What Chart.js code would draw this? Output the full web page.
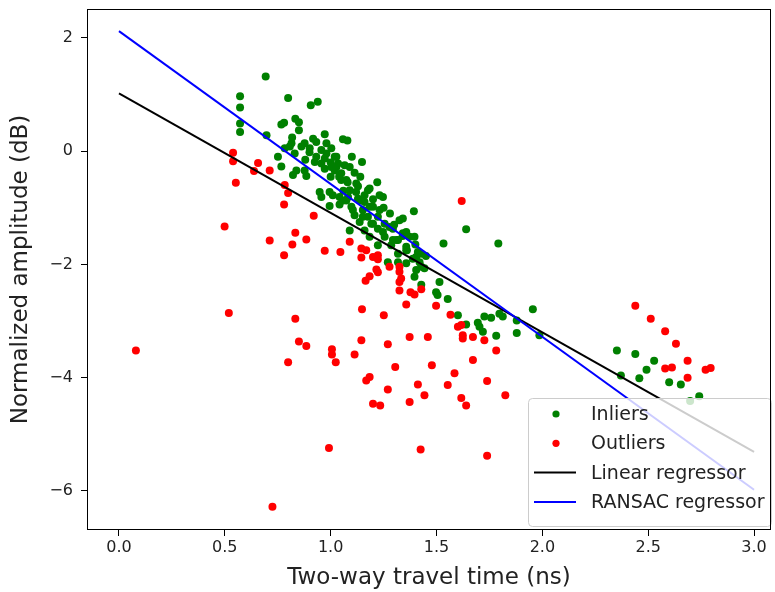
<!DOCTYPE html>
<html>
<head>
<meta charset="utf-8">
<script src="https://cdn.jsdelivr.net/npm/chart.js@4"></script>
<style>
  html, body { margin: 0; padding: 0; background: #fff; }
  #wrap { width: 775px; height: 592px; }
</style>
</head>
<body>
<div id="wrap"><canvas id="myChart" width="775" height="592"></canvas></div>
<script>
// values
const inlierX = [0.572, 0.572, 0.572, 0.572, 0.693, 0.799, 0.906, 0.939, 0.767, 0.78, 0.833, 0.85, 0.85, 0.697, 0.972, 0.818, 0.917, 0.815, 0.877, 0.932,
  0.98, 1.058, 0.783, 0.862, 0.901, 0.956, 1.003, 0.751, 0.83, 0.932, 0.972, 1.019, 0.925, 0.956, 1.035, 0.767, 0.838, 0.877, 0.972, 1.019,
  0.822, 0.885, 1.05, 0.948, 0.956, 0.995, 1.042, 1.01, 0.995, 1.042, 1.057, 1.079, 1.148, 1.066, 1.09, 1.113, 1.027, 1.04, 1.074, 1.129,
  1.176, 1.231, 1.06, 1.082, 1.129, 1.16, 1.2, 1.098, 1.152, 1.393, 1.113, 1.176, 1.223, 1.325, 1.341, 1.137, 1.192, 1.255, 1.09, 1.16,
  1.223, 1.294, 1.357, 1.396, 1.184, 1.255, 1.318, 1.223, 1.286, 1.357, 1.412, 1.318, 1.388, 1.27, 1.318, 1.357, 1.404, 1.428, 1.396, 1.428,
  1.514, 1.498, 1.64, 1.533, 1.792, 1.428, 1.42, 1.443, 1.505, 1.553, 1.601, 1.726, 1.758, 1.797, 1.813, 1.64, 1.695, 1.703, 1.719, 1.782,
  1.879, 1.879, 1.955, 1.986, 2.352, 2.439, 2.528, 2.492, 2.458, 2.371, 2.599, 2.654, 2.741, 2.698,
  0.88, 0.90, 1.0, 1.08, 1.12, 1.2, 1.25, 1.28, 1.3, 1.34, 1.4, 1.45, 1.36, 1.0, 1.1, 1.14, 1.22,
  1.247, 1.184, 1.121, 1.231, 1.184, 1.137, 1.278, 1.341, 1.373, 1.31, 1.357, 1.404, 1.027, 0.98, 1.05, 1.003, 1.09, 1.16, 1.074, 1.105,
  1.152, 1.2, 1.247, 1.294, 0.807];
const inlierY = [0.97, 0.77, 0.49, 0.34, 1.32, 0.94, 0.81, 0.87, 0.47, 0.50, 0.57, 0.51, 0.37, 0.28, 0.30, 0.24, 0.22, 0.14, 0.14, 0.16,
  0.14, 0.21, 0.05, 0.08, 0.05, 0.02, 0.05, -0.10, -0.04, -0.10, -0.13, -0.10, -0.19, -0.22, -0.22, -0.27, -0.34, -0.34, -0.31, -0.34,
  -0.42, -0.44, -0.39, -0.72, -0.81, -0.72, -0.81, -0.78, -0.97, -0.94, -0.87, 0.19, -0.19, -0.25, -0.28, -0.38, -0.10, -0.45, -0.51, -0.62,
  -0.69, -0.78, -0.70, -0.81, -0.84, -0.90, -0.98, -0.98, -1.04, -1.06, -1.13, -1.16, -1.16, -1.22, -1.19, -1.25, -1.28, -1.28, -1.40, -1.40,
  -1.37, -1.37, -1.43, -1.51, -1.51, -1.51, -1.57, -1.66, -1.66, -1.69, -1.78, -1.81, -1.90, -1.96, -1.96, -1.98, -2.10, -2.04, -2.22, -2.36,
  -2.31, -2.49, -1.38, -1.63, -1.63, -1.81, -1.96, -2.07, -2.54, -2.61, -2.90, -2.92, -2.94, -2.87, -2.92, -3.06, -3.03, -3.10, -3.19, -3.26,
  -2.99, -3.21, -2.79, -3.25, -3.52, -3.58, -3.70, -3.86, -4.01, -3.96, -4.08, -4.12, -4.33, -4.41,
  -0.15, -0.02, -0.45, -0.55, -0.72, -0.85, -1.0, -1.1, -1.3, -1.5, -1.65, -1.85, -1.75, -0.2, -0.1, -0.45, -0.55,
  -0.81, -0.66, -0.57, -1.04, -0.98, -0.87, -1.34, -1.45, -1.51, -1.57, -1.75, -1.87, -0.28, -0.04, -0.51, -0.28, -0.69, -0.78, -0.87, -1.04,
  -1.16, -1.28, -1.43, -1.57, 0.08];

const outlierX = [0.539, 0.539, 0.657, 0.638, 0.552, 0.499, 0.712, 0.783, 0.799, 0.78, 0.92, 0.833, 0.712, 0.819, 0.885, 0.78, 0.972, 1.046, 1.09, 1.145,
  1.168, 1.145, 1.2, 1.223, 1.223, 1.278, 1.325, 1.216, 1.184, 1.223, 1.165, 1.325, 1.333, 1.325, 1.325, 1.377, 1.396, 1.428, 1.357, 1.498,
  1.148, 1.251, 1.373, 1.459, 1.145, 1.27, 1.113, 1.478, 1.305, 1.184, 1.168, 1.412, 1.27, 1.443, 1.2, 1.234, 1.373, 1.425, 1.619, 1.566,
  1.601, 1.617, 1.624, 1.624, 1.672, 1.726, 1.782, 1.672, 1.585, 1.553, 1.739, 1.825, 1.617, 1.64, 1.739, 2.439, 2.512, 2.58, 2.631, 2.686,
  2.58, 2.612, 2.686, 2.771, 2.795, 0.08, 0.519, 0.833, 0.85, 0.885, 1.006, 1.006, 0.799, 1.024, 0.992, 0.725];
const outlierY = [-0.03, -0.18, -0.21, -0.35, -0.56, -1.33, -0.34, -0.60, -0.74, -0.94, -1.14, -1.44, -1.58, -1.65, -1.56, -1.84, -1.76, -1.78, -1.60, -1.72,
  -1.75, -1.88, -1.87, -1.84, -1.91, -2.04, -2.04, -2.09, -2.21, -2.14, -2.29, -2.13, -2.25, -2.31, -2.46, -2.49, -2.53, -2.44, -2.71, -2.73,
  -2.79, -2.90, -3.28, -3.28, -3.34, -3.41, -3.59, -3.78, -3.81, -3.99, -4.05, -4.12, -4.21, -4.31, -4.46, -4.49, -4.43, -5.27, -0.88, -2.89,
  -3.10, -3.07, -3.25, -3.31, -3.28, -3.34, -3.52, -3.69, -3.92, -4.13, -4.06, -4.31, -4.36, -4.49, -5.38, -2.73, -2.96, -3.18, -3.40, -3.70,
  -3.84, -3.82, -4.00, -3.86, -3.83, -3.52, -2.86, -2.96, -3.36, -3.44, -3.50, -3.59, -3.73, -3.73, -5.24, -6.28];

const lineX = [0, 3];
const linearY = [1.02, -5.31];
const ransacY = [2.12, -5.98];

const xTicks = [0, 0.5, 1, 1.5, 2, 2.5, 3];
const yTicks = [-6, -4, -2, 0, 2];

const legendLabels = ['Inliers', 'Outliers', 'Linear regressor', 'RANSAC regressor'];
const legendColors = ['green', 'red', 'black', 'blue'];

function toPoints(xs, ys) {
    return xs.map((x, i) => ({x: x, y: ys[i]}));
}

const frame = {
    id: 'frame',
    afterDraw(chart) {
        const {ctx, chartArea: a} = chart;
        ctx.save();
        ctx.strokeStyle = '#000';
        ctx.lineWidth = 1;
        ctx.strokeRect(a.left + 0.5, a.top + 0.5, a.right - a.left - 1, a.bottom - a.top - 1);
        ctx.restore();
    }
};

const boxLegend = {
    id: 'boxLegend',
    afterDatasetsDraw(chart) {
        const ctx = chart.ctx;
        const left = 528, top = 398, w = 243, h = 128;
        ctx.save();
        ctx.beginPath();
        ctx.roundRect(left + 0.5, top + 0.5, w, h, 4);
        ctx.fillStyle = 'rgba(255,255,255,0.8)';
        ctx.fill();
        ctx.strokeStyle = '#cccccc';
        ctx.lineWidth = 1;
        ctx.stroke();
        ctx.font = '19px "DejaVu Sans"';
        ctx.textBaseline = 'middle';
        for (let i = 0; i < legendLabels.length; i++) {
            let y = top + 16 + i * 29.3;
            if (i < 2) {
                ctx.beginPath();
                ctx.arc(556, y, 3.6, 0, Math.PI * 2);
                ctx.fillStyle = legendColors[i];
                ctx.fill();
            } else {
                ctx.beginPath();
                ctx.moveTo(534, y);
                ctx.lineTo(576, y);
                ctx.strokeStyle = legendColors[i];
                ctx.lineWidth = 2;
                ctx.stroke();
            }
            ctx.fillStyle = '#222';
            ctx.fillText(legendLabels[i], 591, y + 1);
        }
        ctx.restore();
    }
};

function makeChart() {
    const ctx = document.getElementById('myChart');

    new Chart(ctx, {
        type: 'scatter',
        data: {
            datasets: [{
                label: 'Inliers',
                data: toPoints(inlierX, inlierY),
                backgroundColor: 'green',
                pointRadius: 4,
                borderWidth: 0,
                order: 4
            }, {
                label: 'Outliers',
                data: toPoints(outlierX, outlierY),
                backgroundColor: 'red',
                pointRadius: 4,
                borderWidth: 0,
                order: 3
            }, {
                type: 'line',
                label: 'Linear regressor',
                data: toPoints(lineX, linearY),
                borderColor: 'black',
                borderWidth: 2,
                pointRadius: 0,
                order: 2
            }, {
                type: 'line',
                label: 'RANSAC regressor',
                data: toPoints(lineX, ransacY),
                borderColor: 'blue',
                borderWidth: 2,
                pointRadius: 0,
                order: 1
            }]
        },
        options: {
            responsive: false,
            animation: false,
            layout: { padding: { top: 9, right: 2, left: 0, bottom: 0 } },
            plugins: {
                legend: { display: false },
                tooltip: { enabled: false }
            },
            scales: {
                x: {
                    type: 'linear',
                    min: -0.151,
                    max: 3.08,
                    afterFit(scale) {
                        scale.height = 62;
                        scale.paddingLeft = 0;
                        scale.paddingRight = 0;
                    },
                    afterBuildTicks(scale) { scale.ticks = xTicks.map(v => ({value: v})); },
                    border: { display: false },
                    grid: { drawOnChartArea: false, color: '#000', tickLength: 6 },
                    ticks: {
                        padding: 2,
                        color: '#222',
                        font: { family: 'DejaVu Sans', size: 16 },
                        callback: v => v.toFixed(1)
                    },
                    title: {
                        display: true,
                        text: 'Two-way travel time (ns)',
                        color: '#222',
                        font: { family: 'DejaVu Sans', size: 23 },
                        padding: { top: 0, bottom: 0 }
                    }
                },
                y: {
                    min: -6.69,
                    max: 2.51,
                    afterFit(scale) {
                        scale.width = 87;
                        scale.paddingTop = 0;
                        scale.paddingBottom = 0;
                    },
                    afterBuildTicks(scale) { scale.ticks = yTicks.map(v => ({value: v})); },
                    border: { display: false },
                    grid: { drawOnChartArea: false, color: '#000', tickLength: 6 },
                    ticks: {
                        padding: 8,
                        color: '#222',
                        font: { family: 'DejaVu Sans', size: 16 },
                        callback: v => String(v).replace('-', '\u2212')
                    },
                    title: {
                        display: true,
                        text: 'Normalized amplitude (dB)',
                        color: '#222',
                        font: { family: 'DejaVu Sans', size: 23 },
                        padding: { top: 7, bottom: 0 }
                    }
                }
            }
        },
        plugins: [boxLegend, frame]
    });
}

makeChart();
</script>
</body>
</html>
